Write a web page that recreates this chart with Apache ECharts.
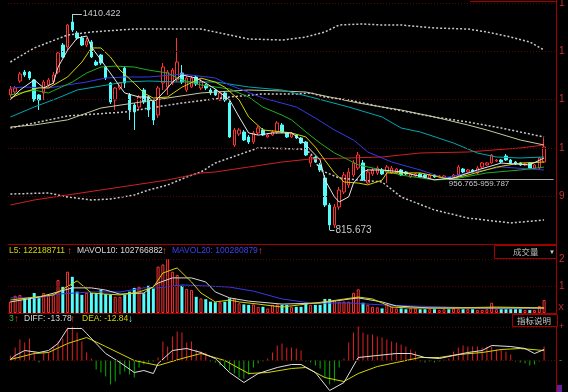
<!DOCTYPE html>
<html><head><meta charset="utf-8">
<script src="https://cdn.jsdelivr.net/npm/echarts@6.0.0/dist/echarts.min.js"></script>
<style>html,body{margin:0;padding:0;background:#000;overflow:hidden}#c{width:568px;height:392px}</style>
</head><body><div id="c"></div>
<script>
// ---------- data ----------
const categories = [];
for (let i = 0; i < 115; i++) categories.push('D' + (i + 1)); // 113 sessions + 2 empty slots

// [open, close, low, high]
const candles = [
[1187.5,1204.0,1182.0,1212.2],[1195.7,1206.7,1190.2,1212.2],[1226.0,1245.3,1220.5,1250.8],[1250.8,1242.5,1237.0,1256.3],[1250.8,1234.3,1228.8,1253.5],
[1228.8,1173.7,1168.2,1231.5],[1187.5,1173.7,1146.2,1190.2],[1193.0,1223.3,1173.7,1228.8],[1215.0,1228.8,1209.5,1234.3],[1223.3,1242.5,1217.7,1250.8],
[1250.8,1303.1,1245.3,1305.8],[1325.1,1292.1,1289.3,1330.6],[1319.6,1380.2,1311.4,1382.9],[1388.4,1366.4,1360.9,1410.422],[1358.2,1344.4,1338.9,1363.7],
[1344.4,1325.1,1322.4,1349.9],[1325.1,1336.1,1319.6,1344.4],[1333.4,1292.1,1289.3,1338.9],[1278.3,1270.1,1267.3,1283.8],[1297.6,1275.6,1270.1,1300.3],
[1264.5,1234.3,1228.8,1267.3],[1220.5,1168.2,1162.7,1223.3],[1173.7,1206.7,1146.2,1209.5],[1206.7,1220.5,1201.2,1223.3],[1261.8,1220.5,1206.7,1267.3],
[1187.5,1146.2,1118.6,1193.0],[1159.9,1140.7,1091.1,1165.4],[1154.4,1182.0,1146.2,1187.5],[1201.2,1168.2,1162.7,1206.7],[1182.0,1146.2,1126.9,1187.5],
[1168.2,1118.6,1104.9,1173.7],[1132.4,1206.7,1124.1,1212.2],[1220.5,1264.5,1201.2,1275.6],[1209.5,1250.8,1187.5,1256.3],[1220.5,1256.3,1215.0,1261.8],
[1228.8,1278.3,1223.3,1344.4],[1248.0,1223.3,1217.7,1270.1],[1201.2,1234.3,1195.7,1239.8],[1209.5,1234.3,1206.7,1239.8],[1237.0,1217.7,1212.2,1242.5],
[1206.7,1223.3,1201.2,1231.5],[1215.0,1206.7,1201.2,1217.7],[1201.2,1193.0,1187.5,1206.7],[1201.2,1187.5,1184.7,1204.0],[1173.7,1193.0,1170.9,1195.7],
[1193.0,1173.7,1168.2,1198.5],[1165.4,1071.8,1069.1,1170.9],[1049.8,1091.1,1044.3,1096.6],[1080.1,1091.1,1074.6,1096.6],[1085.6,1063.6,1060.8,1091.1],
[1071.8,1058.1,1052.6,1077.3],[1058.1,1082.8,1052.6,1088.4],[1082.8,1096.6,1077.3,1102.1],[1091.1,1077.3,1074.6,1096.6],[1071.8,1077.3,1069.1,1080.1],
[1077.3,1085.6,1074.6,1091.1],[1085.6,1110.4,1080.1,1115.9],[1104.9,1085.6,1082.8,1110.4],[1082.8,1071.8,1069.1,1085.6],[1071.8,1080.1,1069.1,1085.6],
[1077.3,1069.1,1066.3,1080.1],[1069.1,1055.3,1052.6,1071.8],[1058.1,1022.3,1019.5,1060.8],[1000.3,1016.8,989.3,1022.3],[1016.8,1003.0,1000.3,1019.5],
[994.8,981.0,975.5,1000.3],[959.0,884.6,879.1,967.2],[884.6,829.6,815.673,890.1],[829.6,879.1,821.3,887.4],[879.1,925.9,870.9,934.2],
[920.4,967.2,914.9,975.5],[939.7,975.5,931.4,986.5],[967.2,1000.3,961.7,1008.5],[986.5,1022.3,981.0,1030.5],[1000.3,953.5,950.7,1008.5],
[945.2,975.5,942.5,983.7],[970.0,981.0,964.5,986.5],[972.7,986.5,967.2,992.0],[981.0,970.0,967.2,986.5],[975.5,989.3,945.2,994.8],
[972.7,986.5,970.0,992.0],[972.7,983.7,970.0,986.5],[981.0,967.2,964.5,983.7],[975.5,970.0,967.2,978.2],[961.7,970.0,959.0,972.7],
[964.5,970.0,961.7,972.7],[970.0,961.7,959.0,972.7],[967.2,961.7,959.0,970.0],[959.0,967.2,957.6,970.0],[967.2,961.7,959.0,970.0],
[961.7,964.5,959.0,967.2],[959.0,964.5,957.6,967.2],[959.5,957.6,956.765,959.787],[961.7,967.2,959.0,970.0],[967.2,989.3,964.5,994.8],
[983.7,975.5,972.7,986.5],[975.5,981.0,972.7,983.7],[981.0,975.5,972.7,983.7],[972.7,986.5,970.0,992.0],[989.3,1000.3,986.5,1003.0],
[994.8,1000.3,992.0,1003.0],[1000.3,1022.3,997.5,1025.0],[1005.8,1008.5,1003.0,1011.3],[1008.5,1003.0,1000.3,1011.3],[1019.5,1008.5,1005.8,1025.0],
[1008.5,1000.3,997.5,1011.3],[1003.0,997.5,994.8,1005.8],[1000.3,994.8,992.0,1003.0],[994.8,997.5,992.0,1000.3],[1000.3,986.5,983.7,1003.0],
[986.5,994.8,983.7,997.5],[986.5,1014.0,983.7,1016.8],[1003.0,1044.3,1000.3,1069.1]
];

// volume, in units of 1e8 shares
const volumes = [
4.2,6.4,6.7,5.6,5.6,7.4,6.0,7.4,6.4,6.7,
12.2,9.7,15.3,13.4,7.9,6.7,7.4,7.4,7.4,8.5,
7.0,6.7,6.0,6.0,6.7,7.9,9.3,9.7,7.3,10.1,
9.1,17.2,18.0,20.0,15.3,14.1,10.1,8.9,8.5,6.0,
5.4,5.1,4.2,4.0,4.0,4.2,5.4,5.4,3.6,3.2,
3.0,3.2,2.3,2.3,1.7,3.0,3.2,3.0,3.0,2.3,
2.3,2.3,3.8,3.0,3.0,3.0,5.2,5.2,4.8,4.2,
4.2,4.2,7.5,8.8,3.8,3.0,2.3,2.1,1.7,3.3,
2.3,1.7,1.7,1.4,1.7,1.7,1.4,1.4,1.4,1.4,
1.1,1.4,1.4,1.7,1.4,1.4,1.4,1.4,1.1,1.1,
1.4,3.8,1.4,1.4,1.4,1.4,1.4,1.4,1.1,1.1,
1.1,2.6,4.8
];

// MACD histogram
const macdHist = [
5,13,21,18,22,9,-2,8,8,14,
19,22,33,34,28,19,8,2,-9,-12,
-16,-24,-21,-14,-11,-14,-17,-7,-4,-2,
-1,3,19,14,24,29,28,18,19,11,
9,8,-1,-2,-5,-8,-10,-13,-17,-18,
-14,-7,-3,-1,2,8,15,17,13,13,
12,10,-1,-2,-5,-8,-17,-24,-21,-7,
2,18,28,34,28,26,26,24,23,21,
19,18,16,14,11,9,-1,-2,-1,-2,
-1,1,2,9,13,15,14,14,14,13,
14,14,11,11,9,6,-1,-2,-3,-5,
-4,-1,14
];
const diffLine = [[0,1],[1,5],[3,10],[6,8],[8,10],[10,17],[12,32],[15,32],[16,27],[18,17],[20,7],[23,-2],[26,-12],[28,-10],[30,-13],[31,-3],[34,10],[37,12],[40,8],[43,2],[46,-12],[49,-22],[52,-13],[56,-7],[59,-4],[61,-4],[64,-12],[67,-30],[70,-22],[73,3],[77,5],[81,7],[84,7],[87,3],[90,2],[93,5],[96,8],[99,10],[101,15],[105,14],[108,12],[110,7],[112,11]];
const deaLine = [[0,1],[5,7],[8,8],[12,17],[16,23],[20,14],[26,0],[31,-5],[36,2],[40,7],[45,0],[50,-13],[54,-12],[59,-8],[62,-7],[66,-17],[70,-21],[73,-13],[77,-6],[81,-2],[86,3],[90,3],[94,6],[99,8],[103,11],[107,12],[112,10]];

// moving averages / bands on price, [session index, price]
const ma5 = [[0,1174],[2,1201],[5,1229],[7,1207],[9,1220],[10,1264],[12,1311],[14,1344],[16,1350],[17,1320],[19,1284],[22,1229],[23,1210],[24,1193],[27,1182],[29,1182],[30,1168],[31,1179],[33,1207],[34,1223],[36,1243],[39,1234],[41,1220],[43,1204],[46,1174],[48,1127],[50,1083],[52,1077],[55,1083],[59,1083],[61,1064],[63,1036],[65,1009],[66,954],[68,907],[69,893],[71,907],[72,945],[74,976],[75,981],[78,981],[82,976],[89,954],[93,959],[98,981],[103,1000],[109,995],[112,1014]];
const ma10 = [[0,1179],[3,1196],[6,1207],[8,1207],[12,1237],[15,1278],[17,1317],[19,1317],[21,1292],[23,1256],[26,1220],[28,1193],[30,1179],[33,1182],[36,1209],[40,1234],[43,1223],[45,1209],[48,1174],[50,1127],[53,1091],[57,1086],[59,1083],[62,1072],[64,1044],[66,1008],[68,973],[70,948],[73,945],[75,940],[78,953],[79,973],[86,973],[92,956],[96,967],[102,989],[107,1000],[112,1003]];
const ma20 = [[0,1187.5],[5,1201],[8,1193],[13,1223],[16,1248],[19,1264.5],[22,1267],[26,1264.5],[29,1256],[33,1248],[36,1229],[40,1215],[46,1204],[50,1182],[53,1154],[57,1132],[59,1119],[62,1086],[65,1055],[68,1028],[71,1008.5],[73,995],[78,981],[82,967],[89,953.5],[93,956],[100,973],[107,981],[112,989]];
const ma30 = [[0,1206.7],[3,1209.5],[8,1206.7],[12,1215],[16,1223.3],[20,1234.3],[24,1237],[29,1237],[34,1242.5],[36,1245.3],[43,1234.3],[46,1215],[53,1179.2],[60,1154.4],[64,1124.1],[68,1091.1],[72,1063.6],[75,1030.5],[80,1003],[86,981],[91,959],[96,972.7],[103,989.2],[112,981]];
const ma60 = [[0,1126.9],[5,1154.4],[10,1179.2],[14,1201.2],[19,1212.2],[24,1223.3],[29,1226],[35,1223.3],[43,1223.3],[50,1209.5],[57,1201.2],[63,1182],[71,1154.4],[78,1126.9],[82,1096.6],[86,1085.6],[93,1055.3],[98,1027.8],[102,1016.8],[107,1014],[112,1016.8]];
const ma120 = [[0,1099.4],[5,1104.9],[12,1119],[19,1151.7],[26,1165.4],[33,1179.2],[40,1193],[43,1195.7],[50,1201.2],[57,1198.5],[62,1195.7],[67,1182],[73,1165.4],[78,1154.4],[82,1146.2],[89,1126.9],[96,1104.9],[100,1091.1],[107,1063.6],[112,1049.8]];
const ma250 = [[0,884.6],[5,898.4],[12,912.2],[19,925.9],[26,939.7],[33,953.5],[40,972.7],[43,975.5],[50,989.2],[57,1003],[63,1011.3],[71,1014],[78,1016.8],[86,1027.8],[96,1030.5],[107,1041.6],[112,1049.8]];
const bollUp = [[0,1278.3],[5,1316.9],[12,1352.6],[17,1360.9],[26,1369.2],[33,1369.2],[40,1369.2],[43,1360.9],[50,1341.6],[57,1338.9],[62,1347.1],[66,1360.9],[69,1380.2],[74,1382.9],[78,1380.2],[82,1380.2],[89,1371.9],[96,1369.2],[100,1360.9],[105,1347.1],[109,1333.4],[112,1311.4]];
const bollMid = [[0,1096.6],[12,1129.7],[24,1140.7],[36,1165.4],[46,1182],[53,1190.2],[60,1190.2],[63,1193],[66,1182],[71,1173.7],[78,1154.4],[89,1126.9],[96,1113.1],[103,1096.6],[112,1071.8]];
const bollLow = [[0,914.9],[8,917.7],[12,906.7],[17,898.4],[21,901.1],[26,912.2],[29,925.9],[33,939.7],[37,961.7],[40,975.5],[43,1000.3],[52,1041.6],[61,1038.8],[63,1027.8],[65,981],[69,959],[73,953.5],[78,948],[82,906.7],[89,870.9],[96,848.8],[105,835.1],[112,843.4]];

// volume moving averages
const mavol5 = [[0,4.8],[9,6.7],[14,11.9],[17,7.4],[20,7.0],[23,6.7],[27,7.8],[30,9.6],[32,14.8],[35,16.7],[38,11.5],[40,7.4],[43,4.1],[46,4.8],[48,4.1],[52,3.3],[57,2.2],[67,4.4],[73,5.9],[76,5.2],[80,2.2],[84,1.85],[92,1.85],[102,2.2],[112,1.9]];
const mavol10 = [[0,4.1],[6,5.9],[10,7.8],[13,9.3],[17,9.3],[20,8.5],[23,7.0],[28,7.4],[31,11.1],[34,13.0],[38,13.0],[41,11.5],[43,7.8],[46,5.6],[50,4.4],[57,3.3],[65,3.7],[73,5.6],[78,4.1],[81,2.6],[88,1.85],[102,1.85],[112,1.85]];
const mavol20 = [[0,5.6],[6,5.6],[10,7.0],[17,7.8],[23,7.8],[28,9.3],[31,9.3],[36,10.4],[41,10.0],[46,9.6],[51,8.1],[57,5.2],[63,3.7],[71,3.7],[78,3.0],[84,2.6],[92,2.2],[98,1.85],[105,1.85],[112,1.8]];

// axis ticks and annotations
const priceGrid = [1440.7, 1307.8, 1174.5, 1040.7, 907.5];
const volGrid = [10, 20];
const macdGrid = [0, 33];
const peak = {idx: 13, price: 1410.422};
const trough = {idx: 67, price: 815.673};
const rangeMark = {idx: 92, lo: 956.765, hi: 959.787};
const volLegend = ['L5: 122188711', 'MAVOL10: 102766882', 'MAVOL20: 100280879'];
const macdLegend = ['3', 'DIFF: -13.78', 'DEA: -12.84'];

// ---------- styles ----------
const UP = '#ff3232', DOWN = '#54fcfc', GRIDC = '#5c0000', FRAME = '#a00000';
const FONT = '"Liberation Sans", Arial, sans-serif';
const DOT = [1, 2];

function line(name, data, color, axis, extra) {
  return Object.assign({
    name, type: 'line', data, xAxisIndex: axis, yAxisIndex: axis,
    showSymbol: false, symbol: 'none', silent: true, smooth: false,
    lineStyle: {color, width: 1}, z: 3
  }, extra || {});
}
function gridMarks(vals, labelColor) {
  return vals.map(v => ({
    yAxis: v,
    lineStyle: {color: GRIDC, type: DOT, width: 1, opacity: 1},
    label: {show: labelColor != null, position: 'end', distance: 3, color: labelColor,
            fontSize: 10, fontFamily: FONT, formatter: () => String(v)[0]}
  }));
}

const volData = volumes.map((v, i) => {
  const up = candles[i][1] >= candles[i][0];
  return {value: v, itemStyle: up ? {color: '#000', borderColor: UP, borderWidth: 1}
                                  : {color: DOWN, borderColor: DOWN, borderWidth: 0}};
});
const macdData = macdHist.map(v => ({value: v, itemStyle: {color: v >= 0 ? '#e02020' : '#00b000'}}));

const xAxisBase = {type: 'category', data: categories, boundaryGap: true, show: false};
const mlBase = {silent: true, symbol: ['none', 'none'], animation: false,
                lineStyle: {color: GRIDC, type: DOT, width: 1}, emphasis: {disabled: true}};

const option = {
  backgroundColor: '#000',
  animation: false,
  grid: [
    {left: 8, top: 0, width: 548, height: 243},
    {left: 8, top: 245, width: 548, height: 68},
    {left: 8, top: 313, width: 548, height: 79}
  ],
  xAxis: [Object.assign({gridIndex: 0}, xAxisBase), Object.assign({gridIndex: 1}, xAxisBase), Object.assign({gridIndex: 2}, xAxisBase)],
  yAxis: [
    {gridIndex: 0, type: 'value', min: 780, max: 1449, show: false},
    {gridIndex: 1, type: 'value', min: 0, max: 25.185, show: false},
    {gridIndex: 2, type: 'value', min: -31.5, max: 47.5, show: false}
  ],
  series: [
    {
      type: 'candlestick', data: candles, xAxisIndex: 0, yAxisIndex: 0, barWidth: 3, z: 2,
      itemStyle: {color: '#000', color0: DOWN, borderColor: UP, borderColor0: DOWN, borderWidth: 1},
      markLine: Object.assign({}, mlBase, {
        data: gridMarks(priceGrid, '#c03030').concat([
          [{coord: [peak.idx, peak.price], lineStyle: {color: '#c8c8c8', type: 'solid', width: 1},
            label: {show: true, position: 'end', distance: 1, formatter: String(peak.price), color: '#c8c8c8', fontSize: 9, fontFamily: FONT}},
           {coord: [peak.idx + 2, peak.price]}],
          [{coord: [trough.idx, trough.price], lineStyle: {color: '#c8c8c8', type: 'solid', width: 1},
            label: {show: true, position: 'end', distance: 1, formatter: String(trough.price), color: '#c8c8c8', fontSize: 10, fontFamily: FONT, padding: [4, 0, 0, 0]}},
           {coord: [trough.idx + 1, trough.price]}],
          [{coord: [rangeMark.idx, rangeMark.lo], lineStyle: {color: '#a8a8a8', type: 'solid', width: 1},
            label: {show: true, position: 'insideStartBottom', distance: [0, 1], formatter: rangeMark.lo + '-' + rangeMark.hi, color: '#c8c8c8', fontSize: 8, fontFamily: FONT}},
           {coord: [114, rangeMark.lo]}]
        ])
      })
    },
    line('BOLL-UP', bollUp, '#c8c8c8', 0, {lineStyle: {color: '#c8c8c8', width: 1.5, type: [2, 2]}}),
    line('BOLL-MID', bollMid, '#c8c8c8', 0, {lineStyle: {color: '#c8c8c8', width: 1.5, type: [2, 2]}}),
    line('BOLL-LOW', bollLow, '#c8c8c8', 0, {lineStyle: {color: '#c8c8c8', width: 1.5, type: [2, 2]}}),
    line('MA250', ma250, '#d02020', 0),
    line('MA120', ma120, '#c8c8a0', 0),
    line('MA60', ma60, '#00a8b0', 0),
    line('MA30', ma30, '#3838e8', 0),
    line('MA20', ma20, '#20b020', 0),
    line('MA10', ma10, '#d4d400', 0),
    line('MA5', ma5, '#e8e8e8', 0),
    {
      type: 'bar', data: volData, xAxisIndex: 1, yAxisIndex: 1, barWidth: 3, z: 2,
      markLine: Object.assign({}, mlBase, {data: gridMarks(volGrid, '#c03030')})
    },
    line('MAVOL20', mavol20, '#3838e8', 1),
    line('MAVOL10', mavol10, '#d8d8d8', 1),
    line('MAVOL5', mavol5, '#d4d400', 1),
    {
      type: 'bar', data: macdData, xAxisIndex: 2, yAxisIndex: 2, barWidth: 1, z: 2,
      markLine: Object.assign({}, mlBase, {data: gridMarks(macdGrid, null)})
    },
    line('DEA', deaLine, '#d4d400', 2),
    line('DIFF', diffLine, '#e0e0e0', 2)
  ],
  graphic: [
    {type: 'line', shape: {x1: 8, y1: 244.5, x2: 556, y2: 244.5}, style: {stroke: FRAME, lineWidth: 1}, z: 10},
    {type: 'line', shape: {x1: 8, y1: 313.5, x2: 556, y2: 313.5}, style: {stroke: FRAME, lineWidth: 1}, z: 10},
    {type: 'line', shape: {x1: 556.5, y1: 0, x2: 556.5, y2: 392}, style: {stroke: FRAME, lineWidth: 1}, z: 10},
    {type: 'line', shape: {x1: 470, y1: 1.5, x2: 556, y2: 1.5}, style: {stroke: FRAME, lineWidth: 1}, z: 10},
    // volume legend
    {type: 'text', x: 9, y: 251, style: {text: volLegend[0], fill: '#d4d400', font: '8.5px ' + FONT, verticalAlign: 'middle'}, z: 10},
    {type: 'text', x: 67, y: 251, style: {text: '↑', fill: UP, font: 'bold 10px ' + FONT, verticalAlign: 'middle'}, z: 10},
    {type: 'text', x: 77, y: 251, style: {text: volLegend[1], fill: '#d8d8d8', font: '8.5px ' + FONT, verticalAlign: 'middle'}, z: 10},
    {type: 'text', x: 162, y: 251, style: {text: '↑', fill: UP, font: 'bold 10px ' + FONT, verticalAlign: 'middle'}, z: 10},
    {type: 'text', x: 172, y: 251, style: {text: volLegend[2], fill: '#4040f0', font: '8.5px ' + FONT, verticalAlign: 'middle'}, z: 10},
    {type: 'text', x: 258, y: 251, style: {text: '↑', fill: UP, font: 'bold 10px ' + FONT, verticalAlign: 'middle'}, z: 10},
    // volume selector box
    {type: 'rect', shape: {x: 494.5, y: 245.5, width: 62, height: 13}, style: {fill: '#000', stroke: FRAME, lineWidth: 1}, z: 10},
    {type: 'text', x: 513, y: 252, style: {text: '成交量', fill: '#b8b8b8', font: '8.5px "Noto Sans CJK SC"', verticalAlign: 'middle'}, z: 11},
    {type: 'text', x: 549, y: 252, style: {text: '▼', fill: '#d0d0d0', font: '6px ' + FONT, verticalAlign: 'middle'}, z: 11},
    // MACD legend
    {type: 'text', x: 9, y: 319, style: {text: macdLegend[0], fill: '#20c020', font: '8.5px ' + FONT, verticalAlign: 'middle'}, z: 10},
    {type: 'text', x: 14, y: 319, style: {text: '↑', fill: UP, font: 'bold 10px ' + FONT, verticalAlign: 'middle'}, z: 10},
    {type: 'text', x: 24, y: 319, style: {text: macdLegend[1], fill: '#d8d8d8', font: '8.5px ' + FONT, verticalAlign: 'middle'}, z: 10},
    {type: 'text', x: 70, y: 319, style: {text: '↑', fill: UP, font: 'bold 10px ' + FONT, verticalAlign: 'middle'}, z: 10},
    {type: 'text', x: 82, y: 319, style: {text: macdLegend[2], fill: '#d4d400', font: '8.5px ' + FONT, verticalAlign: 'middle'}, z: 10},
    {type: 'text', x: 128, y: 319, style: {text: '↓', fill: DOWN, font: 'bold 10px ' + FONT, verticalAlign: 'middle'}, z: 10},
    // indicator help box
    {type: 'rect', shape: {x: 512.5, y: 314.5, width: 45, height: 12}, style: {fill: '#000', stroke: FRAME, lineWidth: 1}, z: 10},
    {type: 'text', x: 517, y: 320.5, style: {text: '指标说明', fill: '#c8c8c8', font: '8.5px "Noto Sans CJK SC"', verticalAlign: 'middle'}, z: 11},
    // right edge marks
    {type: 'text', x: 558, y: 308, style: {text: 'X', fill: '#c03030', font: '9px ' + FONT, verticalAlign: 'middle'}, z: 10},
    {type: 'text', x: 559, y: 327, style: {text: '+', fill: '#c03030', font: '9px ' + FONT, verticalAlign: 'middle'}, z: 10},
    {type: 'text', x: 559, y: 361, style: {text: '-', fill: '#20c020', font: '9px ' + FONT, verticalAlign: 'middle'}, z: 10},
    {type: 'rect', shape: {x: 557, y: 385, width: 5, height: 7}, style: {fill: '#6020a0'}, z: 10}
  ]
};

const chart = echarts.init(document.getElementById('c'), null, {renderer: 'canvas'});
chart.setOption(option);
</script>
</body></html>
